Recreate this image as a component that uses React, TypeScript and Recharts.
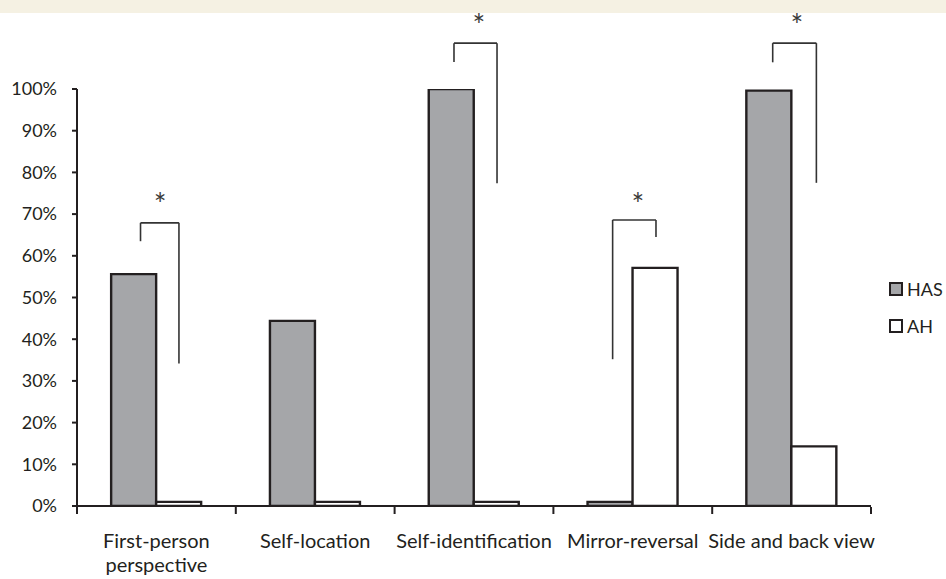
import React from 'react';
import { BarChart, Bar, XAxis, YAxis, ReferenceLine, ReferenceDot, Legend } from 'recharts';

const categories = ['First-person perspective', 'Self-location', 'Self-identification', 'Mirror-reversal', 'Side and back view'];
const tickLines = [['First-person', 'perspective'], ['Self-location'], ['Self-identification'], ['Mirror-reversal'], ['Side and back view']];
const hasValues = [55.6, 44.4, 100, 1, 99.6];
const ahValues = [1, 1, 1, 57.1, 14.3];
const yTicks = [0, 10, 20, 30, 40, 50, 60, 70, 80, 90, 100];
const boundaryTicks = [0, 1, 2, 3, 4, 5];

// significance brackets: [left x, left bottom y, top y, right x, right bottom y] in (category slot, %) units
const brackets = [
    [0.4, 63.5, 67.9, 0.642, 34.2],
    [2.374, 106.5, 111, 2.645, 77.4],
    [3.373, 35.2, 68.6, 3.646, 64.5],
    [4.381, 106.4, 111, 4.656, 77.5],
];
const stars = [
    [0.523, 72.3],
    [2.531, 115.2],
    [3.532, 72.3],
    [4.534, 115.2],
];

const FONT = 'Lato, "Open Sans", sans-serif';
const INK = '#231f20';
const GREY = '#a5a6a9';

const data = categories.map((c, i) => ({ name: c, slot: i, HAS: hasValues[i], AH: ahValues[i] }));

function CategoryTick({ x, y, index }: any) {
    const lines = tickLines[index] || [];
    return (
        <text x={x} y={y + 42} textAnchor="middle" fontFamily={FONT} fontSize={20} fill={INK}>
            {lines.map((l, i) => (
                <tspan key={i} x={x} dy={i === 0 ? 0 : 24}>{l}</tspan>
            ))}
        </text>
    );
}

function LegendBox() {
    const items = [
        { label: 'HAS', fill: GREY },
        { label: 'AH', fill: '#ffffff' },
    ];
    return (
        <div style={{ fontFamily: FONT, fontSize: 18, color: INK }}>
            {items.map((it) => (
                <div key={it.label} style={{ display: 'flex', alignItems: 'center', height: 21, marginBottom: 16 }}>
                    <span style={{ display: 'inline-block', width: 10, height: 10, border: `2px solid ${INK}`, background: it.fill, marginRight: 4 }} />
                    <span>{it.label}</span>
                </div>
            ))}
        </div>
    );
}

export default function App() {
    return (
        <div style={{ position: 'absolute', left: 0, top: 0, width: 946, height: 579, background: '#fff', overflow: 'hidden' }}>
            <div style={{ position: 'absolute', left: 0, top: 0, width: 946, height: 13, background: '#f5f1e3' }} />
            <div style={{ position: 'absolute', left: 0, top: 0 }}>
                <BarChart
                    width={946}
                    height={579}
                    data={data}
                    margin={{ top: 89, right: 18, bottom: 71, left: 17 }}
                    barCategoryGap="21.5%"
                    barGap={0}
                >
                    <XAxis
                        dataKey="name"
                        height={1}
                        tickLine={false}
                        tickSize={0}
                        tickMargin={0}
                        axisLine={{ stroke: INK, strokeWidth: 2 }}
                        tick={<CategoryTick />}
                        interval={0}
                    />
                    <XAxis
                        xAxisId="num"
                        dataKey="slot"
                        type="number"
                        domain={[0, 5]}
                        ticks={boundaryTicks}
                        height={1}
                        tick={() => <g />}
                        axisLine={false}
                        tickLine={{ stroke: INK, strokeWidth: 2 }}
                        tickSize={7}
                        allowDataOverflow
                    />
                    <YAxis
                        width={60}
                        domain={[0, 100]}
                        ticks={yTicks}
                        tickFormatter={(v) => `${v}%`}
                        axisLine={{ stroke: INK, strokeWidth: 2 }}
                        tickLine={{ stroke: INK, strokeWidth: 2 }}
                        tickSize={5}
                        tickMargin={15}
                        tick={{ fontFamily: FONT, fontSize: 18, fill: INK }}
                        allowDataOverflow
                    />
                    <Legend
                        layout="vertical"
                        align="right"
                        verticalAlign="middle"
                        content={<LegendBox />}
                        wrapperStyle={{ left: 889, top: 278, width: 57 }}
                    />
                    <Bar dataKey="HAS" fill={GREY} stroke={INK} strokeWidth={2.4} isAnimationActive={false} />
                    <Bar dataKey="AH" fill="#ffffff" stroke={INK} strokeWidth={2.4} isAnimationActive={false} />
                    {brackets.map(([lx, ly, ty, rx, ry], i) => (
                        <React.Fragment key={`b${i}`}>
                            <ReferenceLine xAxisId="num" ifOverflow="visible" stroke="#333" strokeWidth={1.6}
                                segment={[{ x: lx, y: ly }, { x: lx, y: ty }]} />
                            <ReferenceLine xAxisId="num" ifOverflow="visible" stroke="#333" strokeWidth={1.6}
                                segment={[{ x: lx, y: ty }, { x: rx, y: ty }]} />
                            <ReferenceLine xAxisId="num" ifOverflow="visible" stroke="#333" strokeWidth={1.6}
                                segment={[{ x: rx, y: ty }, { x: rx, y: ry }]} />
                        </React.Fragment>
                    ))}
                    {stars.map(([sx, sy], i) => (
                        <ReferenceDot key={`s${i}`} xAxisId="num" x={sx} y={sy} r={0} ifOverflow="visible"
                            fill="none" stroke="none"
                            label={{ value: '*', position: 'center', fontFamily: FONT, fontSize: 30, fill: '#3a3a3a' }} />
                    ))}
                </BarChart>
            </div>
        </div>
    );
}
